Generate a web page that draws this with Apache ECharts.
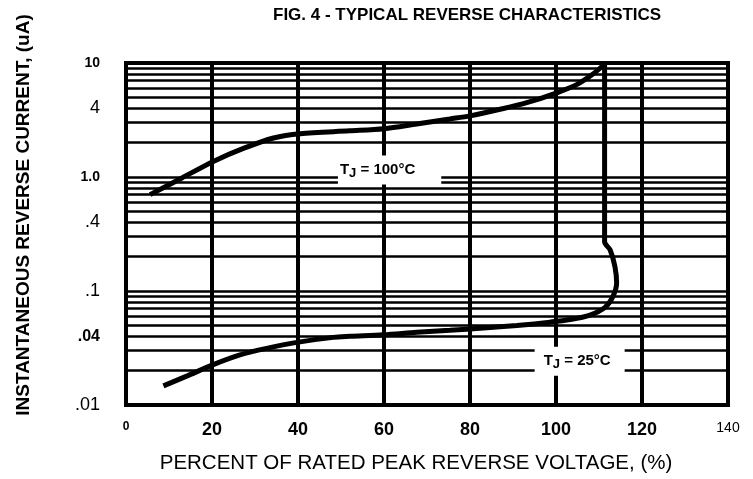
<!DOCTYPE html>
<html>
<head>
<meta charset="utf-8">
<script src="https://cdn.jsdelivr.net/npm/echarts@6/dist/echarts.min.js"></script>
<style>
    html, body { margin: 0; padding: 0; background: #fff; }
    #chart { width: 753px; height: 479px; }
</style>
</head>
<body>
<div id="chart"></div>
<script>
// reverse current (uA) vs percent of rated peak reverse voltage
const tj100 = [
    [5.6, 0.70], [13, 0.98], [20.3, 1.37], [27.3, 1.78], [34.3, 2.2], [40.5, 2.4],
    [52, 2.54], [60, 2.65], [67.6, 2.92], [75.3, 3.23], [80, 3.44], [87, 3.93],
    [93.2, 4.49], [100.2, 5.48], [104.8, 6.46], [108.6, 8.0], [111.2, 9.7]
];
const tj25 = [
    [8.7, 0.0147], [14.1, 0.0179], [20.3, 0.0226], [26.5, 0.0275], [32.7, 0.0314],
    [40.5, 0.0358], [48.2, 0.0392], [52.1, 0.0400], [59.8, 0.0413], [67.6, 0.0434],
    [75.3, 0.0452], [83.1, 0.0473], [90.9, 0.0499], [98.6, 0.0533], [103.3, 0.0562],
    [107.9, 0.0615], [111.4, 0.0718], [113.3, 0.0906], [114.1, 0.118], [113.7, 0.164],
    [112.6, 0.229], [111.3, 0.27], [111.3, 10]
];

const yMinorLines = [
    0.02, 0.03, 0.04, 0.05, 0.06, 0.07, 0.08, 0.09,
    0.2, 0.3, 0.4, 0.5, 0.6, 0.7, 0.8, 0.9,
    2, 3, 4, 5, 6, 7, 8, 9
];
const yTickValues = [10, 4, 1, 0.4, 0.1, 0.04, 0.01];
const yTickLabels = ['10', '4', '1.0', '.4', '.1', '.04', '.01'];
const yTickStyle = ['b', 'n', 'b', 'n', 'n', 'b2', 'n'];

const labelRich = {
    b: { fontSize: 14, fontWeight: 'bold', color: '#000', fontFamily: 'Liberation Sans' },
    b2: { fontSize: 16, fontWeight: 'bold', color: '#000', fontFamily: 'Liberation Sans' },
    n: { fontSize: 18, color: '#000', fontFamily: 'Liberation Sans' }
};

let gridLines = yMinorLines.map(function (v) {
    return { yAxis: v, label: { show: false } };
});
let tickLabels = yTickValues.map(function (v, i) {
    return {
        yAxis: v,
        lineStyle: { color: 'rgba(0,0,0,0)', width: 1 },
        label: {
            show: true,
            position: 'start',
            distance: 26,
            color: '#000',
            formatter: '{' + yTickStyle[i] + '|' + yTickLabels[i] + '}',
            rich: labelRich
        }
    };
});

const tagRich = {
    t: { fontSize: 15, fontWeight: 'bold', color: '#000', fontFamily: 'Liberation Sans' },
    j: { fontSize: 13, fontWeight: 'bold', color: '#000', fontFamily: 'Liberation Sans', padding: [6, 0, 0, 0] }
};

let option = {
    backgroundColor: '#fff',
    animation: false,
    title: {
        text: 'FIG. 4 - TYPICAL REVERSE CHARACTERISTICS',
        left: 268,
        top: 2,
        textStyle: { fontSize: 17, fontWeight: 'bold', color: '#000', fontFamily: 'Liberation Sans' }
    },
    grid: {
        left: 126, top: 63, width: 602, height: 348,
        show: true, borderColor: '#000', borderWidth: 4
    },
    xAxis: {
        type: 'value',
        min: 0, max: 140, interval: 20,
        name: 'PERCENT OF RATED PEAK REVERSE VOLTAGE, (%)',
        nameLocation: 'middle',
        nameGap: 48,
        nameTextStyle: { fontSize: 20.5, color: '#000', fontFamily: 'Liberation Sans', padding: [0, 22, 0, 0] },
        axisLine: { show: false },
        axisTick: { show: false },
        splitLine: { show: true, lineStyle: { color: '#000', width: 4 } },
        axisLabel: {
            margin: 16,
            showMinLabel: true,
            showMaxLabel: true,
            formatter: function (v) {
                if (v === 0) return '{s|0}';
                if (v === 140) return '{m|140}';
                return '{b|' + v + '}';
            },
            rich: {
                s: { fontSize: 12, fontWeight: 'bold', color: '#000', fontFamily: 'Liberation Sans' },
                m: { fontSize: 14, color: '#000', fontFamily: 'Liberation Sans' },
                b: { fontSize: 18, fontWeight: 'bold', color: '#000', fontFamily: 'Liberation Sans' }
            }
        }
    },
    yAxis: {
        type: 'log',
        logBase: 10,
        min: 0.01, max: 10,
        axisLine: { show: false },
        axisTick: { show: false },
        axisLabel: { show: false },
        splitLine: { show: true, lineStyle: { color: '#000', width: 2.5 } }
    },
    graphic: [{
        type: 'text',
        x: 24, y: 215,
        rotation: Math.PI / 2,
        style: {
            text: 'INSTANTANEOUS REVERSE CURRENT, (uA)',
            fontSize: 19, fontWeight: 'bold', fontFamily: 'Liberation Sans',
            fill: '#000', align: 'center', verticalAlign: 'middle'
        }
    }],
    series: [
        {
            name: 'TJ = 100°C',
            type: 'line',
            data: tj100,
            smooth: 0.3,
            symbol: 'none',
            z: 3,
            lineStyle: { color: '#000', width: 5 },
            markPoint: {
                z: 10,
                symbol: 'rect',
                symbolSize: 0,
                label: {
                    show: true,
                    position: 'inside',
                    formatter: '{t|T}{j|J}{t| = 100°C}',
                    backgroundColor: '#fff',
                    padding: [5, 26, 5, 2],
                    rich: tagRich
                },
                data: [{ coord: [61.3, 1.15] }]
            }
        },
        {
            name: 'TJ = 25°C',
            type: 'line',
            data: tj25,
            smooth: 0.3,
            symbol: 'none',
            z: 3,
            lineStyle: { color: '#000', width: 5 },
            markLine: {
                z: 1,
                silent: true,
                symbol: ['none', 'none'],
                lineStyle: { color: '#000', width: 2.5, type: 'solid' },
                data: gridLines.concat(tickLabels)
            },
            markPoint: {
                z: 10,
                symbol: 'rect',
                symbolSize: 0,
                label: {
                    show: true,
                    position: 'inside',
                    formatter: '{t|T}{j|J}{t| = 25°C}',
                    backgroundColor: '#fff',
                    padding: [5, 14, 5, 9],
                    rich: tagRich
                },
                data: [{ coord: [105.5, 0.0242] }]
            }
        }
    ]
};

let element = document.getElementById('chart');
let chart = echarts.init(element);
chart.setOption(option);
</script>
</body>
</html>
